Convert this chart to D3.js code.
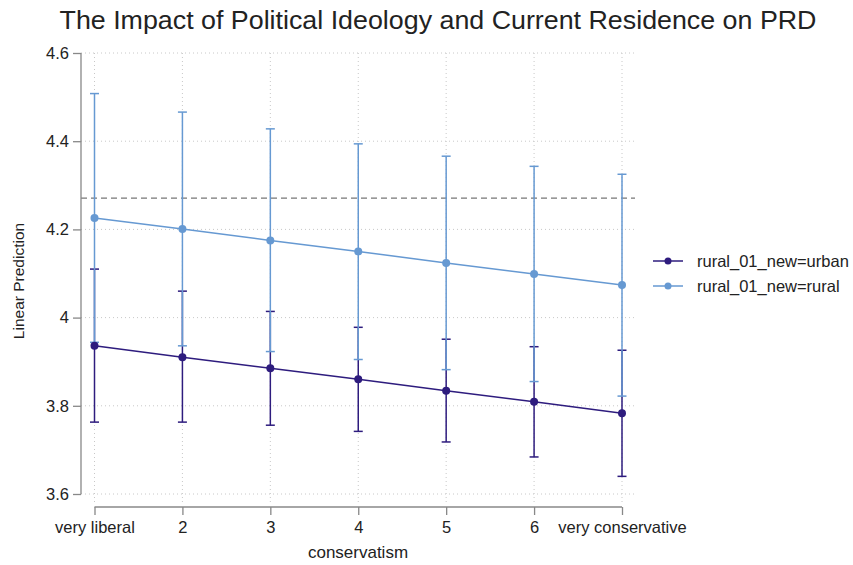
<!DOCTYPE html>
<html>
<head>
<meta charset="utf-8">
<script src="https://cdn.jsdelivr.net/npm/d3@7"></script>
<style>
  body { margin: 0; background: #fff; }
  text { font-family: "Liberation Sans", Arial, sans-serif; fill: #222; }
</style>
</head>
<body>
<div id="chart"></div>
<script>
const W = 853, H = 565;

// categories on the x axis
const categories = ['very liberal', '2', '3', '4', '5', '6', 'very conservative'];
const yTicks = [3.6, 3.8, 4, 4.2, 4.4, 4.6];

// urban series
const urbanFit = [3.936, 3.910, 3.885, 3.860, 3.834, 3.809, 3.783];
const urbanLo  = [3.763, 3.763, 3.756, 3.742, 3.718, 3.684, 3.640];
const urbanHi  = [4.110, 4.060, 4.014, 3.978, 3.951, 3.934, 3.926];

// rural series
const ruralFit = [4.226, 4.201, 4.175, 4.150, 4.124, 4.099, 4.074];
const ruralLo  = [3.944, 3.936, 3.923, 3.905, 3.882, 3.855, 3.822];
const ruralHi  = [4.508, 4.466, 4.428, 4.394, 4.366, 4.343, 4.325];

const refLine = 4.271;

const seriesNames = ['rural_01_new=urban', 'rural_01_new=rural'];
const colors = ['#2e1c7e', '#6699d2'];

const x = d3.scalePoint().domain(categories).range([94.5, 622]);
const y = d3.scaleLinear().domain([3.6, 4.6]).range([494, 53]);

const svg = d3.select('#chart').append('svg')
    .attr('width', W)
    .attr('height', H);

// title
svg.append('text')
    .attr('x', 438)
    .attr('y', 29)
    .attr('text-anchor', 'middle')
    .attr('font-size', '26px')
    .attr('textLength', 757)
    .attr('lengthAdjust', 'spacingAndGlyphs')
    .text('The Impact of Political Ideology and Current Residence on PRD');

// grid
const grid = svg.append('g');
grid.selectAll('.hg').data(yTicks).enter().append('line')
    .attr('x1', 81).attr('x2', 635)
    .attr('y1', d => y(d)).attr('y2', d => y(d))
    .attr('stroke', '#c8c8c8').attr('stroke-width', 1)
    .attr('stroke-dasharray', '1,3');
grid.selectAll('.vg').data(categories).enter().append('line')
    .attr('x1', d => x(d)).attr('x2', d => x(d))
    .attr('y1', 53).attr('y2', 504)
    .attr('stroke', '#c8c8c8').attr('stroke-width', 1)
    .attr('stroke-dasharray', '1,3');

// reference line
svg.append('line')
    .attr('x1', 81).attr('x2', 635)
    .attr('y1', y(refLine)).attr('y2', y(refLine))
    .attr('stroke', '#777').attr('stroke-width', 1.2)
    .attr('stroke-dasharray', '6,4');

// axes
const yAxis = d3.axisLeft(y).tickValues(yTicks).tickSize(8).tickPadding(4)
    .tickFormat(d3.format('~g'));
const yG = svg.append('g').attr('transform', 'translate(81,0)').call(yAxis);

const xAxis = d3.axisBottom(x).tickSize(8).tickPadding(5);
const xG = svg.append('g').attr('transform', 'translate(0,507)').call(xAxis);

[yG, xG].forEach(g => {
    g.select('.domain').attr('stroke', '#888').attr('stroke-width', 1.3);
    g.selectAll('.tick line').attr('stroke', '#888').attr('stroke-width', 1.3);
    g.selectAll('.tick text').attr('font-size', '16.5px').attr('fill', '#222')
        .attr('font-family', '"Liberation Sans", Arial, sans-serif');
});
yG.select('.domain').attr('d', `M0,${y(4.6)}V${y(3.6)}`);
xG.select('.domain').attr('d', `M${x(categories[0])},0H${x(categories[6])}`);
xG.selectAll('.tick text').attr('dy', '0.8em');

// axis titles
svg.append('text')
    .attr('transform', 'translate(24,281) rotate(-90)')
    .attr('text-anchor', 'middle')
    .attr('font-size', '15.5px')
    .text('Linear Prediction');
svg.append('text')
    .attr('x', 358)
    .attr('y', 558)
    .attr('text-anchor', 'middle')
    .attr('font-size', '17px')
    .text('conservatism');

const series = [
    { fit: urbanFit, lo: urbanLo, hi: urbanHi, color: colors[0] },
    { fit: ruralFit, lo: ruralLo, hi: ruralHi, color: colors[1] }
];

// error bars
series.forEach(s => {
    const g = svg.append('g').attr('stroke', s.color).attr('stroke-width', 1.5);
    categories.forEach((c, i) => {
        g.append('line')
            .attr('x1', x(c)).attr('x2', x(c))
            .attr('y1', y(s.lo[i])).attr('y2', y(s.hi[i]));
        [s.lo[i], s.hi[i]].forEach(v => {
            g.append('line')
                .attr('x1', x(c) - 4.5).attr('x2', x(c) + 4.5)
                .attr('y1', y(v)).attr('y2', y(v));
        });
    });
});

// lines and markers
const line = d3.line().x((d, i) => x(categories[i])).y(d => y(d));
series.forEach(s => {
    svg.append('path')
        .datum(s.fit)
        .attr('d', line)
        .attr('fill', 'none')
        .attr('stroke', s.color)
        .attr('stroke-width', 1.5);
    svg.append('g').selectAll('circle').data(s.fit).enter().append('circle')
        .attr('cx', (d, i) => x(categories[i]))
        .attr('cy', d => y(d))
        .attr('r', 4)
        .attr('fill', s.color);
});

// legend
const legend = svg.append('g').attr('transform', 'translate(653,261)');
seriesNames.forEach((name, i) => {
    const row = legend.append('g').attr('transform', `translate(0,${i * 25})`);
    row.append('line')
        .attr('x1', 0).attr('x2', 30)
        .attr('stroke', colors[i]).attr('stroke-width', 1.5);
    row.append('circle')
        .attr('cx', 15).attr('r', 3.5)
        .attr('fill', colors[i]);
    row.append('text')
        .attr('x', 44)
        .attr('y', 5.5)
        .attr('font-size', '16.5px')
        .text(name);
});
</script>
</body>
</html>
